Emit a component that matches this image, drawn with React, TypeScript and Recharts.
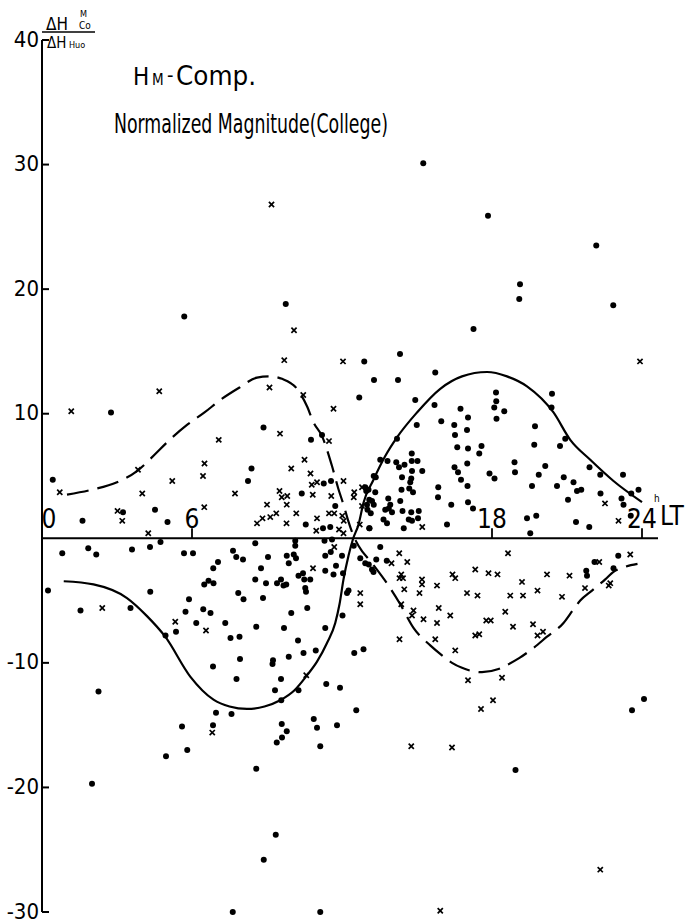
import React from "react";
import { ComposedChart, Scatter, Line, XAxis, YAxis, ReferenceLine, ReferenceDot } from "recharts";

// local time (h) vs normalized magnitude
const yTicks = [-30, -20, -10, 10, 20, 30, 40];
const xTicks = [0, 6, 18, 24];
const xTickLabels = ["0", "6", "18", "24"];

const dotPoints: [number, number][] = [
  [5.69, 17.8], [9.75, 18.8], [2.76, 10.1], [8.86, 8.9], [10.76, 7.9], [11.2, 8.3],
  [15.25, 30.1], [17.84, 25.9], [22.17, 23.5], [19.12, 20.4], [19.09, 19.2], [22.85, 18.7],
  [17.26, 16.8], [14.32, 14.8], [12.89, 14.2], [15.73, 13.3], [13.28, 12.7], [14.24, 12.7],
  [12.69, 11.3], [14.93, 11.1], [15.7, 10.7], [18.16, 11.7], [18.17, 11.0], [18.09, 10.5],
  [18.49, 10.2], [18.18, 9.6], [16.74, 10.4], [17.04, 9.7], [15.97, 9.4], [16.49, 9.1],
  [17.0, 8.7], [16.52, 8.3], [14.99, 9.1], [20.4, 11.6], [20.38, 10.5], [19.72, 9.0],
  [20.93, 8.0], [14.2, 8.0], [16.61, 7.3], [17.04, 7.2], [17.58, 7.4], [17.49, 6.8],
  [17.01, 6.0], [16.5, 5.7], [16.64, 5.3], [16.76, 4.7], [17.02, 4.2], [17.9, 5.2],
  [18.1, 4.8], [18.9, 6.1], [18.92, 5.3], [15.85, 4.1], [15.84, 3.3], [16.37, 2.7],
  [17.04, 2.9], [17.24, 2.4], [16.2, 1.1], [19.4, 1.6], [14.79, 6.8], [14.79, 6.2],
  [15.02, 6.2], [14.17, 6.1], [14.5, 5.9], [14.28, 5.7], [14.8, 5.4], [15.21, 5.4],
  [14.4, 4.9], [14.77, 4.8], [14.73, 4.5], [14.69, 4.0], [14.38, 3.9], [14.84, 3.7],
  [13.85, 3.2], [14.33, 3.0], [13.93, 2.7], [13.87, 2.4], [13.73, 2.3], [14.0, 2.1],
  [13.66, 1.5], [14.42, 2.2], [14.77, 2.1], [15.07, 2.2], [14.67, 1.5], [14.8, 1.4],
  [15.04, 1.6], [14.47, 0.8], [13.8, 1.2], [13.53, 6.3], [13.82, 6.2], [13.35, 4.9],
  [13.33, 3.7], [13.2, 3.0], [13.02, 2.3], [13.1, 0.8], [12.97, 3.8], [8.38, 5.6],
  [8.24, 4.6], [10.39, 3.6], [10.55, 1.1], [11.27, 4.4], [11.56, 4.6], [11.73, 2.6],
  [11.24, 0.8], [11.53, 0.9], [12.93, 4.1], [13.06, 3.9], [13.09, 3.1], [13.0, 2.7],
  [13.27, 2.7], [13.15, 2.0], [13.09, 0.8], [13.27, 5.0], [0.43, 4.7], [3.24, 2.1],
  [4.52, 2.3], [1.62, 1.4], [5.02, 1.3], [19.69, 7.5], [20.72, 7.4], [20.13, 5.8],
  [19.87, 5.1], [20.87, 4.9], [21.26, 4.5], [21.57, 3.9], [21.4, 3.8], [21.9, 5.7],
  [22.33, 5.1], [23.24, 5.1], [19.6, 4.2], [20.6, 4.2], [21.04, 3.1], [22.34, 3.6],
  [23.18, 3.2], [23.26, 2.7], [23.86, 3.9], [23.57, 3.6], [23.55, 1.8], [21.36, 1.3],
  [21.89, 0.9], [19.77, 1.8], [19.53, 0.4],
  [4.74, -0.3], [0.81, -1.2], [1.85, -0.8], [2.17, -1.3], [3.6, -0.9], [4.32, -0.7],
  [5.68, -1.2], [6.04, -1.2], [0.24, -4.2], [1.54, -5.8], [3.54, -5.6], [4.33, -4.3],
  [7.04, -1.9], [6.85, -2.4], [6.66, -3.4], [6.49, -3.7], [6.86, -3.6], [5.88, -4.9],
  [5.74, -5.9], [6.45, -5.7], [6.74, -6.0], [5.36, -7.5], [6.17, -6.8], [7.33, -6.8],
  [4.94, -7.8], [8.53, -0.4], [10.13, -0.2], [10.13, -0.6], [11.3, -0.2], [11.6, -0.1],
  [7.64, -1.0], [7.77, -1.5], [8.04, -1.7], [9.04, -1.5], [9.79, -1.4], [10.07, -1.3],
  [10.16, -1.6], [9.87, -2.0], [8.76, -2.4], [11.33, -1.4], [11.55, -1.1], [12.0, -1.4],
  [11.33, -2.6], [11.76, -2.2], [11.66, -2.9], [12.04, -2.8], [8.53, -3.3], [8.96, -3.6],
  [9.4, -3.6], [9.56, -3.3], [9.66, -3.8], [9.77, -3.7], [10.26, -3.0], [10.44, -2.8],
  [10.49, -3.3], [10.73, -3.3], [10.53, -4.0], [10.56, -4.3], [7.85, -4.4], [8.06, -4.9],
  [8.84, -4.8], [8.57, -7.1], [9.97, -6.0], [10.61, -5.6], [9.68, -7.2], [11.33, -7.2],
  [12.02, -6.2], [12.2, -4.4], [12.26, -4.2], [7.54, -8.0], [7.9, -7.9], [10.24, -8.2],
  [10.95, -9.0], [10.46, -9.2], [9.87, -9.5], [9.24, -9.8], [9.22, -10.1], [7.92, -9.7],
  [6.84, -10.3], [7.78, -11.3], [9.56, -11.3], [9.32, -12.2], [10.26, -12.2], [11.37, -11.7],
  [11.92, -12.0], [9.57, -13.0], [12.49, -9.2], [12.86, -8.9], [6.96, -14.0], [7.58, -14.1],
  [6.84, -15.0], [5.6, -15.1], [5.81, -17.0], [9.59, -14.9], [9.79, -15.5], [9.6, -16.0],
  [9.39, -16.4], [10.87, -14.5], [11.0, -15.2], [11.13, -16.7], [11.8, -15.0], [12.57, -13.8],
  [8.57, -18.5], [13.53, -0.7], [12.47, -0.6], [12.73, -1.6], [12.93, -2.0], [13.07, -2.1],
  [13.2, -2.5], [13.26, -2.7], [13.37, -1.7], [13.79, -1.8], [21.77, -2.6], [22.1, -1.9],
  [21.8, -3.0], [23.05, -1.4], [22.86, -2.4], [18.94, -18.6], [24.08, -12.9], [23.6, -13.8],
  [2.26, -12.3], [2.0, -19.7], [4.96, -17.5], [9.35, -23.8], [8.87, -25.8], [7.63, -30.0],
  [11.13, -30.0],
];

const crossPoints: [number, number][] = [
  [9.18, 26.8], [10.08, 16.7], [9.69, 14.3], [4.69, 11.8], [1.17, 10.2], [9.1, 12.1],
  [10.45, 11.5], [11.66, 10.4], [9.52, 8.4], [7.07, 7.9], [12.04, 14.2], [23.92, 14.2],
  [15.21, 0.9], [12.06, 4.6], [12.49, 3.7], [12.8, 4.1], [12.47, 3.3], [11.48, 7.8],
  [6.5, 6.0], [6.44, 5.0], [7.72, 3.6], [6.49, 2.5], [10.5, 6.3], [9.97, 5.6],
  [10.74, 5.2], [9.5, 3.8], [9.81, 3.4], [9.59, 3.3], [9.79, 2.7], [9.0, 2.7],
  [9.37, 2.0], [9.13, 1.7], [8.82, 1.6], [8.6, 1.2], [9.78, 1.2], [10.17, 2.0],
  [10.79, 4.3], [11.0, 4.5], [10.83, 3.5], [11.57, 3.4], [11.0, 1.6], [11.48, 2.0],
  [11.69, 2.0], [10.97, 0.6], [11.88, 0.7], [12.06, 0.4], [12.01, 1.8], [12.07, 1.4],
  [12.8, 2.6], [12.71, 1.1], [0.71, 3.7], [3.84, 5.5], [5.21, 4.6], [4.01, 3.6],
  [3.02, 2.2], [3.21, 1.4], [4.25, 0.4], [22.52, 2.8], [23.06, 1.4],
  [2.41, -5.6], [5.33, -6.7], [6.56, -7.4], [11.69, -0.7], [10.84, -2.4], [12.73, -4.4],
  [12.73, -5.3], [6.81, -15.6], [10.57, -11.0], [14.77, -16.7], [14.29, -1.2], [14.61, -1.9],
  [13.98, -2.0], [14.37, -2.9], [14.3, -3.2], [14.44, -3.2], [15.2, -3.3], [15.2, -3.7],
  [14.49, -4.1], [15.1, -4.4], [14.86, -5.8], [14.8, -6.2], [14.37, -5.3], [15.26, -6.5],
  [14.3, -8.1], [18.64, -1.2], [15.8, -3.8], [16.42, -2.9], [16.53, -3.2], [17.33, -2.5],
  [17.86, -2.8], [18.22, -2.9], [17.0, -4.4], [17.42, -4.6], [19.2, -3.5], [20.2, -2.9],
  [21.1, -3.0], [22.29, -1.9], [19.82, -4.2], [19.24, -4.6], [18.73, -4.6], [20.8, -4.7],
  [21.72, -4.0], [23.53, -1.3], [22.67, -3.8], [22.73, -3.6], [15.8, -6.8], [16.33, -6.2],
  [15.87, -5.6], [17.77, -6.6], [17.95, -6.6], [18.53, -5.9], [18.84, -7.1], [19.64, -6.9],
  [17.33, -7.8], [17.49, -7.7], [19.82, -7.8], [20.04, -7.5], [15.73, -8.1], [16.53, -9.0],
  [17.04, -11.4], [18.4, -11.2], [18.04, -13.0], [17.56, -13.7], [16.4, -16.8], [22.33, -26.6],
  [15.93, -29.9],
];

const solidCurve: [number, number][] = [
  [0.87, -3.45], [2.06, -3.7], [3.4, -4.8], [4.2, -6.25], [4.93, -7.9], [5.93, -11.1],
  [6.86, -12.95], [7.5, -13.5], [8.2, -13.7], [8.9, -13.5], [9.53, -13.0], [10.1, -12.2],
  [10.6, -11.0], [11.0, -9.9], [11.4, -8.4], [11.73, -6.8], [11.9, -5.3], [12.06, -3.3],
  [12.26, -1.4], [12.45, 0.0], [12.66, 1.1], [12.86, 2.85], [13.26, 4.7], [13.73, 6.6],
  [14.2, 8.1], [15.0, 10.1], [15.93, 12.0], [16.8, 13.0], [17.8, 13.35], [18.6, 13.0],
  [19.4, 12.2], [20.46, 10.1], [21.13, 7.9], [21.93, 6.3], [22.86, 4.6], [24.0, 2.9],
];

const dashedCurve: [number, number][] = [
  [1.0, 3.5], [2.0, 3.9], [3.0, 4.5], [3.8, 5.4], [4.5, 6.7], [5.0, 7.7], [5.8, 9.1],
  [6.5, 10.1], [7.13, 11.1], [7.9, 12.1], [8.6, 12.9], [9.1, 13.0], [9.6, 12.8], [10.2, 12.0],
  [10.6, 10.6], [10.86, 9.3], [11.2, 8.2], [11.6, 5.8], [11.85, 4.0], [12.06, 2.7],
  [12.25, 1.4], [12.46, 0.2], [12.66, -0.6], [13.2, -2.0], [13.86, -3.8], [14.33, -5.3],
  [14.86, -7.2], [15.53, -8.6], [16.0, -9.4], [16.4, -10.0], [16.8, -10.4], [17.6, -10.75],
  [18.26, -10.5], [18.57, -10.2], [19.1, -9.6], [19.66, -8.8], [20.2, -7.9], [20.86, -6.8],
  [21.26, -5.7], [21.53, -5.0], [22.0, -4.2], [22.53, -3.3], [22.86, -2.7], [23.3, -2.3],
  [23.82, -2.05],
];

const rows = (pts: [number, number][]) => pts.map(([h, v]) => ({ h, v }));

const FONT = "'DejaVu Sans Condensed', 'Liberation Sans Narrow', 'Liberation Sans', sans-serif";

const Dot = (p: any) => <circle cx={p.cx} cy={p.cy} r={3} fill="#000" />;

const Cross = (p: any) => {
  const s = 2.6;
  return (
    <g stroke="#000" strokeWidth={1.7}>
      <line x1={p.cx - s} y1={p.cy - s} x2={p.cx + s} y2={p.cy + s} />
      <line x1={p.cx - s} y1={p.cy + s} x2={p.cx + s} y2={p.cy - s} />
    </g>
  );
};

const YTick = (props: any) => {
  const { x, y, payload } = props;
  return (
    <g>
      <line x1={x} y1={y} x2={x + 7} y2={y} stroke="#000" strokeWidth={2} />
      <text x={x - 3} y={y} dy="0.3em" textAnchor="end" fontSize={22} fontFamily={FONT} fill="#000">
        {payload.value}
      </text>
    </g>
  );
};

const XTickMark = ({ cx, cy, label }: any) => {
  if (label === "0") {
    return (
      <text x={cx + 7} y={cy - 10} textAnchor="middle" fontSize={26} fontFamily={FONT} fill="#000">
        {label}
      </text>
    );
  }
  return (
    <g>
      <line x1={cx} y1={cy} x2={cx} y2={cy - 10} stroke="#000" strokeWidth={1.8} />
      <text x={cx} y={cy - 10} textAnchor="middle" fontSize={26} fontFamily={FONT} fill="#000">
        {label}
      </text>
    </g>
  );
};

export default function App() {
  return (
    <div style={{ position: "absolute", left: 0, top: 0, width: 688, height: 923, background: "#fff" }}>
      <ComposedChart width={688} height={923} margin={{ top: 40, right: 30, bottom: 11, left: 2 }}>
        <XAxis type="number" dataKey="h" domain={[0, 24.64]} hide allowDataOverflow />
        <YAxis
          type="number"
          dataKey="v"
          domain={[-30, 40]}
          ticks={yTicks}
          interval={0}
          width={40}
          tickSize={0}
          tickMargin={0}
          tickLine={false}
          axisLine={{ stroke: "#000", strokeWidth: 2 }}
          tick={<YTick />}
        />
        <ReferenceLine y={0} stroke="#000" strokeWidth={2} />
        {xTicks.map((t, i) => (
          <ReferenceDot
            key={t}
            x={t}
            y={0}
            r={0}
            shape={(p: any) => <XTickMark cx={p.cx} cy={p.cy} label={xTickLabels[i]} />}
          />
        ))}
        <Line
          data={rows(solidCurve)}
          dataKey="v"
          type="monotone"
          stroke="#000"
          strokeWidth={2.2}
          dot={false}
          activeDot={false}
          isAnimationActive={false}
        />
        <Line
          data={rows(dashedCurve)}
          dataKey="v"
          type="monotone"
          stroke="#000"
          strokeWidth={2.2}
          strokeDasharray="22 9"
          dot={false}
          activeDot={false}
          isAnimationActive={false}
        />
        <Scatter data={rows(dotPoints)} dataKey="v" shape={<Dot />} isAnimationActive={false} />
        <Scatter data={rows(crossPoints)} dataKey="v" shape={<Cross />} isAnimationActive={false} />
      </ComposedChart>
      <svg
        width={688}
        height={923}
        style={{ position: "absolute", left: 0, top: 0, pointerEvents: "none" }}
        fontFamily={FONT}
      >
        <text x={46} y={30} fontSize={17} fill="#000">ΔH</text>
        <text x={80} y={17} fontSize={9} fill="#000">M</text>
        <text x={79} y={29} fontSize={10} fill="#000">Co</text>
        <line x1={42} y1={32} x2={95} y2={32} stroke="#000" strokeWidth={1.3} />
        <text x={47} y={48} fontSize={15} fill="#000">ΔH</text>
        <text x={69} y={48} fontSize={9} fill="#000">Huo</text>
        <text x={133} y={85} fontSize={24} fill="#000">H</text>
        <text x={152} y={85} fontSize={15} fill="#000">M</text>
        <text x={167} y={82} fontSize={20} fill="#000">-</text>
        <text x={176} y={85} fontSize={26} fill="#000" textLength={80} lengthAdjust="spacingAndGlyphs">Comp.</text>
        <text x={114} y={133} fontSize={27} fill="#000" textLength={274} lengthAdjust="spacingAndGlyphs">
          Normalized Magnitude(College)
        </text>
        <text x={654} y={502} fontSize={10} fill="#000">h</text>
        <text x={660} y={525} fontSize={26} fill="#000">LT</text>
      </svg>
    </div>
  );
}
